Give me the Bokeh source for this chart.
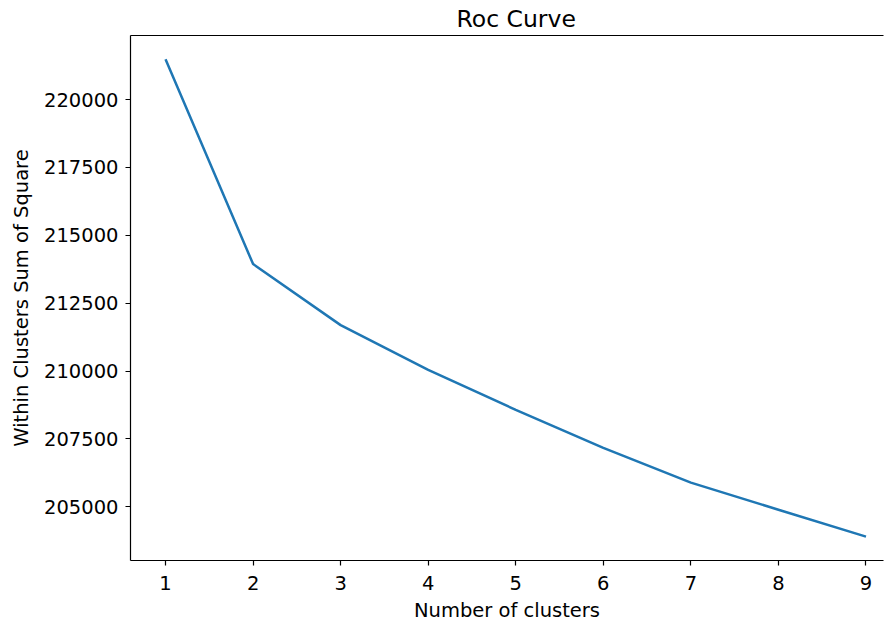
from bokeh.plotting import figure
from bokeh.models import Range1d, LinearAxis, FixedTicker, NumeralTickFormatter
from bokeh.embed import file_html
from bokeh.resources import INLINE

clusters = [1, 2, 3, 4, 5, 6, 7, 8, 9]
wcss = [221480, 213940, 211690, 210040, 208570, 207170, 205890, 204890, 203900]
y_ticks = [205000, 207500, 210000, 212500, 215000, 217500, 220000]
x_ticks = [1, 2, 3, 4, 5, 6, 7, 8, 9]

ymin, ymax = min(wcss), max(wcss)
span = ymax - ymin

p = figure(width=885, height=624, output_backend="svg", toolbar_location=None,
           x_range=Range1d(0.6, 9.2),
           y_range=Range1d(ymin - 0.05 * span, ymax + 0.05 * span),
           min_border_left=130, min_border_right=2, min_border_top=0, min_border_bottom=64,
           title="Roc Curve")
p.title.align = "left"
p.title.offset = 326
p.title.standoff = 5
p.title.text_font = "DejaVu Sans"
p.title.text_font_size = "23.5px"
p.title.text_font_style = "normal"
p.title.text_color = "black"
p.outline_line_color = None
p.grid.visible = False
p.background_fill_color = "white"
p.border_fill_color = "white"

p.line(clusters, wcss, line_color="#1f77b4", line_width=2.5)

for ax in (p.xaxis[0], p.yaxis[0]):
    ax.major_label_text_font = "DejaVu Sans"
    ax.major_label_text_font_size = "19.5px"
    ax.major_label_text_color = "black"
    ax.axis_label_text_font = "DejaVu Sans"
    ax.axis_label_text_font_size = "19.5px"
    ax.axis_label_text_font_style = "normal"
    ax.axis_label_text_color = "black"
    ax.axis_line_color = "black"
    ax.axis_line_width = 1.2
    ax.major_tick_line_color = "black"
    ax.major_tick_line_width = 1.2
    ax.major_tick_out = 5
    ax.major_tick_in = 0
    ax.minor_tick_line_color = None

p.xaxis[0].ticker = FixedTicker(ticks=x_ticks)
p.yaxis[0].ticker = FixedTicker(ticks=y_ticks)
p.yaxis[0].formatter = NumeralTickFormatter(format="0")
p.xaxis[0].axis_label = "Number of clusters"
p.yaxis[0].axis_label = "Within Clusters Sum of Square"
p.yaxis[0].major_label_standoff = 7
p.xaxis[0].major_label_standoff = 10
p.yaxis[0].axis_label_standoff = 8
p.xaxis[0].axis_label_standoff = 6

top = LinearAxis(ticker=FixedTicker(ticks=[]), major_label_text_font_size="0px",
                 major_label_standoff=0,
                 axis_line_color="black", axis_line_width=1.2,
                 major_tick_line_color=None, minor_tick_line_color=None)
p.add_layout(top, "above")

open("out.html", "w").write(file_html(p, INLINE))
